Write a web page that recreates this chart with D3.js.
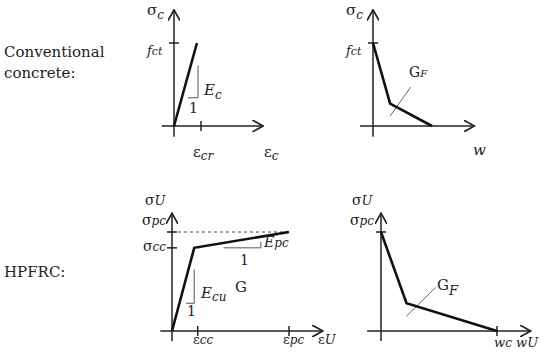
<!DOCTYPE html>
<html>
<head>
<meta charset="utf-8">
<script src="https://cdn.jsdelivr.net/npm/d3@7"></script>
<style>
body { margin: 0; background: #fff; }
text { font-family: "DejaVu Serif", serif; fill: #222; }
</style>
</head>
<body>
<svg id="chart" width="550" height="356"></svg>
<script>
// curves in normalised units (1 = labelled tick value)
CONV_STRESS_STRAIN = [[0, 0], [0.85, 1]];
CONV_SOFTENING = [[0, 1], [0.29, 0.27], [1, 0]];
HPFRC_STRESS_STRAIN = [[0, 0], [0.19, 0.84], [1, 1]];
HPFRC_SOFTENING = [[0, 1], [0.22, 0.28], [1, 0]];

ROW_LABELS = [["Conventional", "concrete:"], ["HPFRC:"]];

var svg = d3.select("#chart");

svg.append("defs").append("marker")
    .attr("id", "arrow")
    .attr("viewBox", "0 0 10 10")
    .attr("refX", 9).attr("refY", 5)
    .attr("markerWidth", 12).attr("markerHeight", 12)
    .attr("markerUnits", "userSpaceOnUse")
    .attr("orient", "auto")
    .append("path")
    .attr("d", "M0,0 L9,5 L0,10")
    .attr("fill", "none")
    .attr("stroke", "#222")
    .attr("stroke-width", 1.4);

function label(x, y, main, sub, opts) {
    opts = opts || {};
    var t = svg.append("text")
        .attr("x", x).attr("y", y)
        .attr("font-size", opts.size || 14)
        .attr("text-anchor", opts.anchor || "start");
    t.append("tspan").attr("font-style", opts.italicMain ? "italic" : "normal").text(main);
    if (sub) {
        t.append("tspan")
            .attr("font-style", "italic")
            .attr("font-size", opts.subSize || 11)
            .attr("dy", opts.subDy == null ? 4 : opts.subDy)
            .text(sub);
    }
    return t;
}

function panel(cfg) {
    var x = d3.scaleLinear().domain([0, 1]).range([cfg.x0, cfg.x1]);
    var y = d3.scaleLinear().domain([0, 1]).range([cfg.y0, cfg.y1]);
    var g = svg.append("g");

    // axes
    g.append("line")
        .attr("x1", x(cfg.xExt[0])).attr("x2", x(cfg.xExt[1]))
        .attr("y1", y(0)).attr("y2", y(0))
        .attr("stroke", "#222").attr("stroke-width", 1.5)
        .attr("marker-end", "url(#arrow)");
    g.append("line")
        .attr("x1", x(0)).attr("x2", x(0))
        .attr("y1", y(cfg.yExt[0])).attr("y2", y(cfg.yExt[1]))
        .attr("stroke", "#222").attr("stroke-width", 1.5)
        .attr("marker-end", "url(#arrow)");

    // ticks
    cfg.yTicks.forEach(function(v) {
        g.append("line")
            .attr("x1", x(0) - 5).attr("x2", x(0) + 5)
            .attr("y1", y(v)).attr("y2", y(v))
            .attr("stroke", "#222").attr("stroke-width", 1.5);
    });
    cfg.xTicks.forEach(function(v) {
        g.append("line")
            .attr("x1", x(v)).attr("x2", x(v))
            .attr("y1", y(0) - 5).attr("y2", y(0) + 5)
            .attr("stroke", "#222").attr("stroke-width", 1.5);
    });

    if (cfg.dashed) {
        g.append("line")
            .attr("x1", x(0)).attr("x2", x(1))
            .attr("y1", y(1)).attr("y2", y(1))
            .attr("stroke", "#444").attr("stroke-width", 1)
            .attr("stroke-dasharray", "3,3");
    }

    var line = d3.line()
        .x(function(d) { return x(d[0]); })
        .y(function(d) { return y(d[1]); });

    if (cfg.gf) {
        g.append("path")
            .datum(cfg.gf)
            .attr("d", line)
            .attr("stroke", "#666").attr("stroke-width", 1)
            .attr("fill", "none");
    }

    g.append("path")
        .datum(cfg.curve)
        .attr("d", line)
        .attr("fill", "none")
        .attr("stroke", "#111")
        .attr("stroke-width", 2.6)
        .attr("stroke-linejoin", "miter");

    (cfg.slopes || []).forEach(function(s) {
        g.append("path")
            .datum(s)
            .attr("d", line)
            .attr("fill", "none")
            .attr("stroke", "#555").attr("stroke-width", 1);
    });
    return {x: x, y: y};
}

// row labels
label(4, 57, ROW_LABELS[0][0], null, {size: 15});
label(4, 78, ROW_LABELS[0][1], null, {size: 15});
label(4, 277, ROW_LABELS[1][0], null, {size: 15});

// Conventional: stress-strain
panel({
    x0: 174, x1: 201, y0: 126, y1: 43,
    xExt: [-0.45, 3.3], yExt: [-0.13, 1.4],
    xTicks: [1], yTicks: [1],
    curve: CONV_STRESS_STRAIN,
    slopes: [[[0.89, 0.73], [0.89, 0.34], [0.52, 0.34]]]
});
label(147, 15, "σ", "c", {size: 15, subDy: 4, subSize: 12});
label(147, 55, "f", "ct", {italicMain: true, size: 13, subDy: 0, subSize: 11});
label(204, 95, "E", "c", {italicMain: true, size: 15, subDy: 4, subSize: 12});
label(189, 113, "1", null, {size: 14});
label(193, 157, "ε", "cr", {size: 15, subDy: 3, subSize: 12});
label(264, 157, "ε", "c", {size: 15, subDy: 3, subSize: 12});

// Conventional: softening
panel({
    x0: 373, x1: 432, y0: 126, y1: 43,
    xExt: [-0.22, 1.72], yExt: [-0.13, 1.4],
    xTicks: [], yTicks: [1],
    curve: CONV_SOFTENING,
    gf: [[0.29, 0.12], [0.64, 0.47]]
});
label(346, 15, "σ", "c", {size: 15, subDy: 4, subSize: 12});
label(346, 55, "f", "ct", {italicMain: true, size: 13, subDy: 0, subSize: 11});
label(409, 77, "G", "F", {size: 14, subDy: 0, subSize: 10});
label(473, 155, "w", null, {italicMain: true, size: 15});

// HPFRC: stress-strain
panel({
    x0: 172, x1: 289, y0: 331, y1: 232,
    xExt: [-0.1, 1.29], yExt: [-0.1, 1.19],
    xTicks: [0.22, 1], yTicks: [1, 0.84],
    curve: HPFRC_STRESS_STRAIN,
    dashed: true,
    slopes: [[[0.19, 0.62], [0.19, 0.28], [0.12, 0.28]],
             [[0.44, 0.84], [0.76, 0.84], [0.76, 0.9]]]
});
label(145, 205, "σ", "U", {size: 14, subDy: 0, subSize: 13});
label(142, 225, "σ", "pc", {size: 14, subDy: 0, subSize: 12});
label(143, 251, "σ", "cc", {size: 14, subDy: 0, subSize: 12});
label(201, 298, "E", "cu", {italicMain: true, size: 15, subDy: 3, subSize: 12});
label(235, 292, "G", null, {size: 15});
label(240, 265, "1", null, {size: 14});
label(187, 316, "1", null, {size: 14});
label(264, 247, "E", "pc", {italicMain: true, size: 14, subDy: 0, subSize: 12});
label(193, 344, "ε", "cc", {size: 13, subDy: 0, subSize: 12});
label(283, 344, "ε", "pc", {size: 13, subDy: 0, subSize: 12});
label(318, 344, "ε", "U", {size: 13, subDy: 0, subSize: 13});

// HPFRC: softening
panel({
    x0: 381, x1: 497, y0: 331, y1: 232,
    xExt: [-0.12, 1.29], yExt: [-0.1, 1.19],
    xTicks: [1], yTicks: [1],
    curve: HPFRC_SOFTENING,
    gf: [[0.22, 0.15], [0.47, 0.44]]
});
label(352, 205, "σ", "U", {size: 14, subDy: 0, subSize: 13});
label(350, 225, "σ", "pc", {size: 14, subDy: 0, subSize: 12});
label(437, 290, "G", "F", {size: 15, subDy: 5, subSize: 13});
label(494, 347, "w", "c", {italicMain: true, size: 13, subDy: 0, subSize: 12});
label(516, 347, "w", "U", {italicMain: true, size: 13, subDy: 0, subSize: 13});
</script>
</body>
</html>
